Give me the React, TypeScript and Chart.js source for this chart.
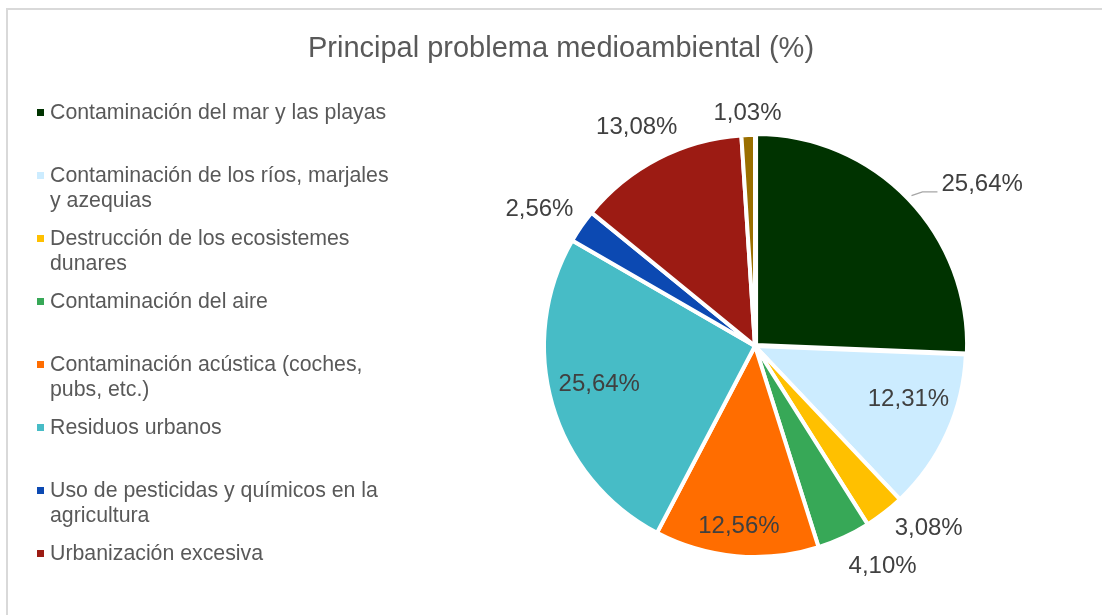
import React, { useEffect, useRef } from "react";
import { Chart, registerables } from "chart.js";

Chart.register(...registerables);

const title = "Principal problema medioambiental (%)";

const labels = [
  "Contaminación del mar y las playas",
  "Contaminación de los ríos, marjales y azequias",
  "Destrucción de los ecosistemes dunares",
  "Contaminación del aire",
  "Contaminación acústica (coches, pubs, etc.)",
  "Residuos urbanos",
  "Uso de pesticidas y químicos en la agricultura",
  "Urbanización excesiva",
  "Otros",
];

const values = [25.64, 12.31, 3.08, 4.1, 12.56, 25.64, 2.56, 13.08, 1.03];

const colors = [
  "#003300",
  "#ccecff",
  "#ffc000",
  "#37a857",
  "#ff6d00",
  "#47bcc6",
  "#0c49b2",
  "#9c1b13",
  "#9a6f00",
];

// how many legend entries are visible in the reference
const legendCount = 8;

// label placement (style): radius factor and angle shift (deg) from slice mid-angle
const labelRadius = [1.32, 0.77, 1.195, 1.205, 0.86, 0.76, 1.21, 1.18, 1.105];
const labelShift = [8.5, -5.3, -5.7, -5.2, 0, 2.4, -2.2, -1.1, 0];
const leaderLine = [true, false, false, false, false, false, false, false, false];
const sliceOffset = [6, 0, 0, 0, 0, 0, 0, 0, 0];

const FONT = "'Liberation Sans', Arial, Helvetica, sans-serif";

const labelPlugin = {
  id: "sliceLabels",
  afterDatasetsDraw(chart: any) {
    const ctx = chart.ctx;
    const meta = chart.getDatasetMeta(0);
    ctx.save();
    ctx.font = `24px ${FONT}`;
    ctx.fillStyle = "#404040";
    ctx.textAlign = "center";
    ctx.textBaseline = "middle";
    meta.data.forEach((arc: any, i: number) => {
      const p = arc.getProps(["x", "y", "startAngle", "endAngle", "outerRadius"], true);
      const mid = (p.startAngle + p.endAngle) / 2;
      const a = mid + (labelShift[i] * Math.PI) / 180;
      const d = p.outerRadius * labelRadius[i];
      const lx = p.x + Math.cos(a) * d;
      const ly = p.y + Math.sin(a) * d;
      const text = values[i].toFixed(2).replace(".", ",") + "%";
      ctx.fillText(text, lx, ly);
      if (leaderLine[i]) {
        const off = sliceOffset[i];
        const ex = p.x + Math.cos(mid) * (p.outerRadius + off);
        const ey = p.y + Math.sin(mid) * (p.outerRadius + off);
        const tw = ctx.measureText(text).width;
        const left = lx - tw / 2;
        ctx.beginPath();
        ctx.strokeStyle = "#a6a6a6";
        ctx.lineWidth = 1.3;
        ctx.moveTo(ex, ey);
        ctx.lineTo(left - 19, ly + 7);
        ctx.lineTo(left - 4, ly + 7);
        ctx.stroke();
      }
    });
    ctx.restore();
  },
};

export default function App() {
  const ref = useRef<HTMLCanvasElement>(null);

  useEffect(() => {
    if (!ref.current) return;
    const chart = new Chart(ref.current, {
      type: "pie",
      data: {
        labels,
        datasets: [
          {
            data: values,
            backgroundColor: colors,
            borderColor: "#ffffff",
            borderWidth: 4,
            offset: sliceOffset,
            radius: 211,
          } as any,
        ],
      },
      options: {
        animation: false,
        responsive: false,
        events: [],
        layout: { padding: { left: 410, right: 2, top: 77, bottom: 0 } },
        plugins: {
          legend: { display: false },
          title: { display: false },
          tooltip: { enabled: false },
        },
      } as any,
      plugins: [labelPlugin],
    });
    return () => chart.destroy();
  }, []);

  return (
    <div
      style={{
        position: "fixed",
        left: 0,
        top: 0,
        width: 1102,
        height: 615,
        overflow: "hidden",
        background: "#ffffff",
        fontFamily: FONT,
      }}
    >
      <div
        style={{
          position: "absolute",
          left: 6,
          top: 8,
          width: 1200,
          height: 700,
          borderLeft: "2px solid #d9d9d9",
          borderTop: "2px solid #d9d9d9",
        }}
      />
      <canvas
        ref={ref}
        width={1102}
        height={615}
        style={{ position: "absolute", left: 0, top: 0, width: 1102, height: 615 }}
      />
      <div
        style={{
          position: "absolute",
          left: 561,
          top: 30,
          transform: "translateX(-50%)",
          whiteSpace: "nowrap",
          fontSize: 29,
          lineHeight: "34px",
          color: "#595959",
        }}
      >
        {title}
      </div>
      {labels.slice(0, legendCount).map((lab, i) => (
        <div
          key={lab}
          style={{
            position: "absolute",
            left: 37,
            top: 100 + i * 63,
            width: 360,
          }}
        >
          <div
            style={{
              position: "absolute",
              left: 0,
              top: 9,
              width: 7,
              height: 7,
              background: colors[i],
            }}
          />
          <div
            style={{
              position: "absolute",
              left: 13,
              top: 0,
              width: 345,
              fontSize: 21.3,
              lineHeight: "24.5px",
              color: "#595959",
            }}
          >
            {lab}
          </div>
        </div>
      ))}
    </div>
  );
}
